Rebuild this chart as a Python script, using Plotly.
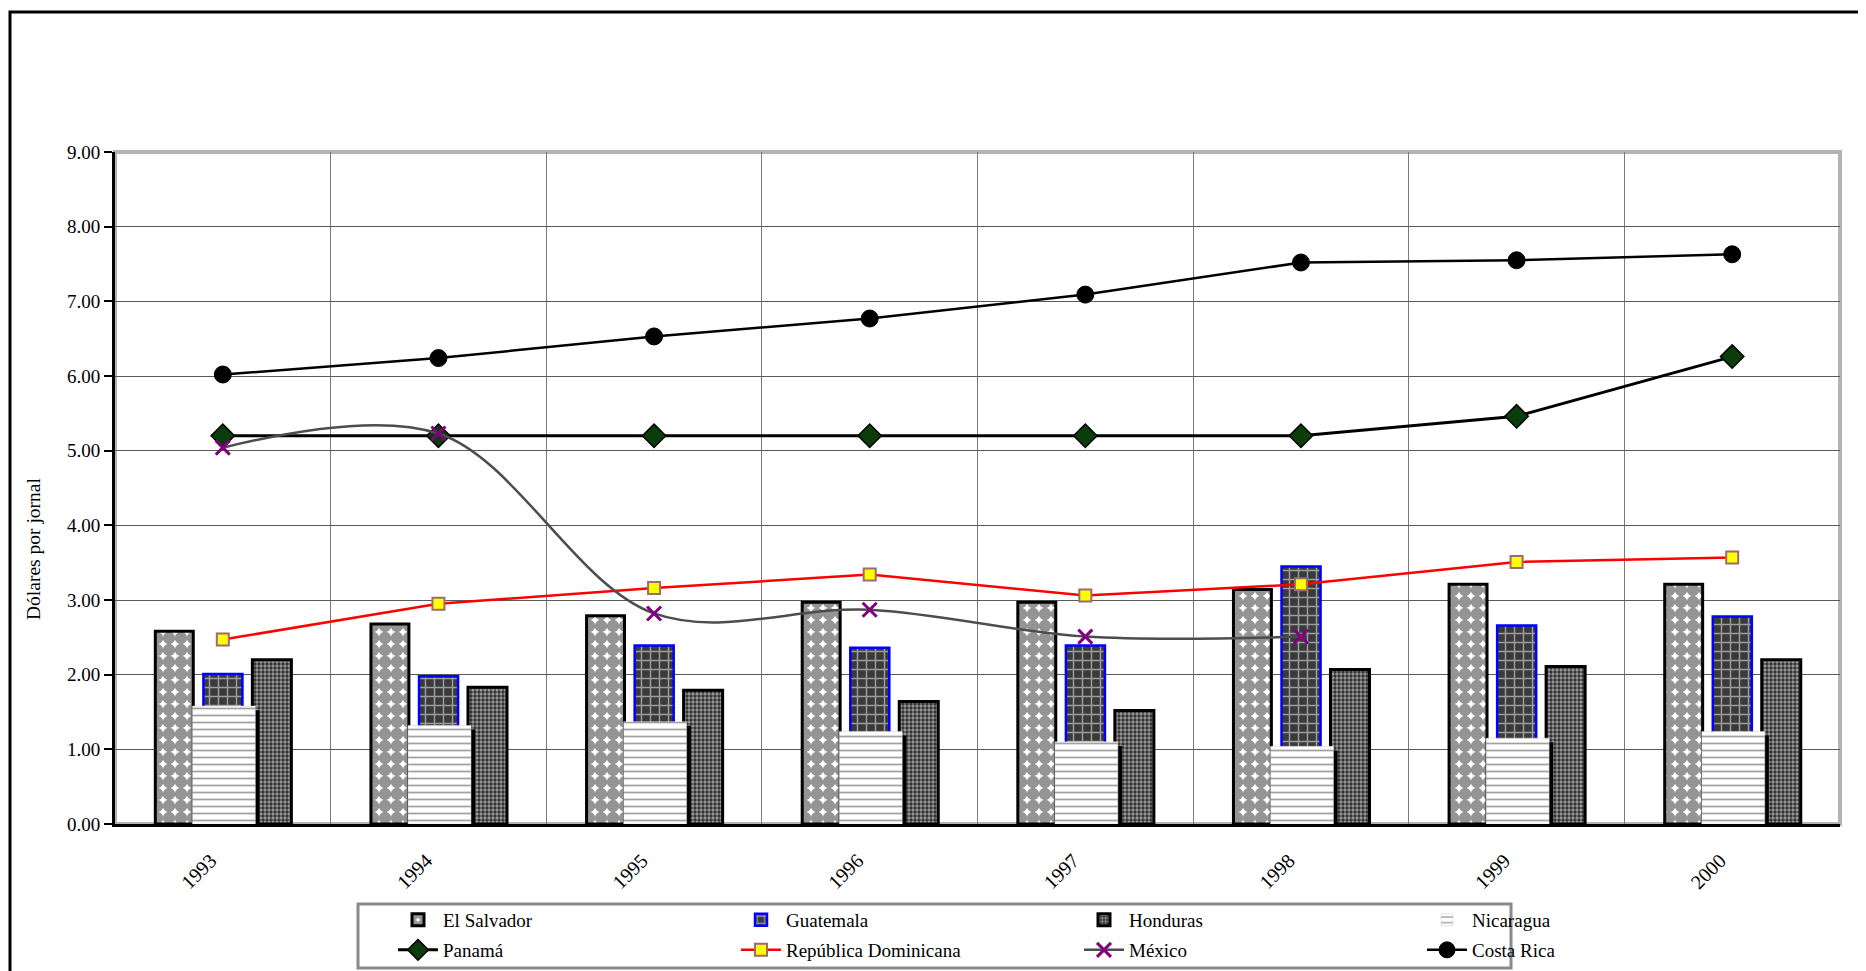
import plotly.graph_objects as go

# ---------------- data ----------------
years = [1993, 1994, 1995, 1996, 1997, 1998, 1999, 2000]
el_salvador = [2.58, 2.68, 2.79, 2.97, 2.97, 3.14, 3.21, 3.21]
guatemala = [2.01, 1.98, 2.39, 2.36, 2.39, 3.45, 2.66, 2.78]
honduras = [2.20, 1.83, 1.79, 1.64, 1.52, 2.07, 2.11, 2.20]
nicaragua = [1.58, 1.32, 1.37, 1.24, 1.10, 1.04, 1.15, 1.24]
panama = [5.20, 5.20, 5.20, 5.20, 5.20, 5.20, 5.46, 6.26]
rep_dominicana = [2.47, 2.95, 3.16, 3.34, 3.06, 3.21, 3.51, 3.57]
mexico = [5.04, 5.23, 2.82, 2.87, 2.51, 2.51, None, None]
costa_rica = [6.02, 6.24, 6.53, 6.77, 7.09, 7.52, 7.55, 7.63]
y_ticks = [0, 1, 2, 3, 4, 5, 6, 7, 8, 9]

FONT = "Liberation Serif"

# page body has an 8px margin; figure sized to fit the window
OFF = 8
W, H = 1866 - OFF, 971 - OFF
L, T = 115 - OFF, 152 - OFF
PR, PB = 1840 - OFF, 824 - OFF          # plot right / bottom in figure px
R, B = W - PR, H - PB
PW, PH = PR - L, PB - T


def px(page_x):
    return (page_x - OFF - L) / PW


def py(page_y):
    return (PB - (page_y - OFF)) / PH


fig = go.Figure()

# ---------------- bars ----------------
fig.add_trace(go.Bar(
    x=years, y=el_salvador, name="El Salvador", legend="legend",
    offset=-0.313, width=0.176,
    marker=dict(color="white",
                line=dict(color="black", width=3),
                pattern=dict(shape=".", fgcolor="#2a2a2a", bgcolor="white",
                             size=12, solidity=0.8)),
))
fig.add_trace(go.Bar(
    x=years, y=guatemala, name="Guatemala", legend="legend",
    offset=-0.090, width=0.181,
    marker=dict(color="#3a3a3a",
                line=dict(color="#0000ff", width=2.5),
                pattern=dict(shape="+", fgcolor="white", bgcolor="#3a3a3a",
                             size=9, solidity=0.3)),
))
fig.add_trace(go.Bar(
    x=years, y=honduras, name="Honduras", legend="legend",
    offset=0.137, width=0.181,
    marker=dict(color="#2a2a2a",
                line=dict(color="black", width=3),
                pattern=dict(shape=".", fgcolor="white", bgcolor="#2a2a2a",
                             size=4, solidity=0.55)),
))
# shadow of Nicaragua bars
shadow_drop = 0.055
fig.add_trace(go.Bar(
    x=years, y=[v - shadow_drop for v in nicaragua], showlegend=False,
    offset=-0.141 + 0.019, width=0.292,
    marker=dict(color="black", line=dict(width=0)), hoverinfo="skip",
))
fig.add_trace(go.Bar(
    x=years, y=nicaragua, name="Nicaragua", legend="legend",
    offset=-0.141, width=0.292,
    marker=dict(color="white",
                line=dict(color="#cccccc", width=0.5),
                pattern=dict(shape="-", fgcolor="#444444", bgcolor="white",
                             size=7, solidity=0.25)),
))

# ---------------- lines ----------------
fig.add_trace(go.Scatter(
    x=years, y=panama, name="Panamá", legend="legend2", mode="lines+markers",
    line=dict(color="black", width=3),
    marker=dict(symbol="diamond", size=18, color="#0b3d0b",
                line=dict(color="black", width=1.5)),
))
fig.add_trace(go.Scatter(
    x=years, y=rep_dominicana, name="República Dominicana", legend="legend2",
    mode="lines+markers",
    line=dict(color="#ff0000", width=2.5),
    marker=dict(symbol="square", size=12, color="#ffff00",
                line=dict(color="#9c6b6b", width=2)),
))
fig.add_trace(go.Scatter(
    x=years, y=mexico, name="México", legend="legend2", mode="lines+markers",
    line=dict(color="#4d4d4d", width=2.5, shape="spline", smoothing=1.0),
    marker=dict(symbol="x-thin-open", size=14, color="#800080",
                line=dict(color="#800080", width=3)),
))
fig.add_trace(go.Scatter(
    x=years, y=costa_rica, name="Costa Rica", legend="legend2",
    mode="lines+markers",
    line=dict(color="black", width=2.5),
    marker=dict(symbol="circle", size=17, color="black",
                line=dict(color="black", width=1)),
))

# ---------------- layout ----------------
shapes = [
    # plot-area frame (grey hatched look)
    dict(type="rect", xref="paper", yref="paper", x0=0, x1=1, y0=0, y1=1,
         line=dict(color="#b3b3b3", width=4), layer="below"),
    # outer chart frame
    dict(type="rect", xref="paper", yref="paper",
         x0=px(10), x1=px(2100), y0=py(1200), y1=py(12),
         line=dict(color="black", width=3)),
    # legend box
    dict(type="rect", xref="paper", yref="paper",
         x0=px(358), x1=px(1511), y0=py(968), y1=py(904),
         line=dict(color="#8a8a8a", width=3)),
]

fig.update_layout(
    width=W, height=H,
    margin=dict(l=L, r=R, t=T, b=B, pad=0, autoexpand=False),
    paper_bgcolor="white", plot_bgcolor="white",
    barmode="overlay",
    font=dict(family=FONT, size=19, color="black"),
    shapes=shapes,
    showlegend=True,
    legend=dict(orientation="h", x=px(393), xanchor="left",
                y=py(920), yanchor="middle",
                entrywidth=288, entrywidthmode="pixels",
                bgcolor="rgba(0,0,0,0)", borderwidth=0,
                font=dict(family=FONT, size=19), itemwidth=40,
                traceorder="normal"),
    legend2=dict(orientation="h", x=px(393), xanchor="left",
                 y=py(950), yanchor="middle",
                 entrywidth=288, entrywidthmode="pixels",
                 bgcolor="rgba(0,0,0,0)", borderwidth=0,
                 font=dict(family=FONT, size=19), itemwidth=40,
                 traceorder="normal"),
    annotations=[dict(text="Dólares por jornal", xref="paper", yref="paper",
                      x=px(33), y=py(549), xanchor="center", yanchor="middle",
                      textangle=-90, showarrow=False,
                      font=dict(family=FONT, size=19.5))],
)

fig.update_xaxes(
    range=[1992.5, 2000.5],
    tickmode="array", tickvals=years, ticktext=[str(y) for y in years],
    tickangle=-45, ticks="", showgrid=False,
    showline=True, linecolor="black", linewidth=3,
    ticklabelstandoff=14, ticklabelshift=-12,
    tickfont=dict(family=FONT, size=20),
    minor=dict(tick0=1992.5, dtick=1, showgrid=True, gridcolor="#7a7a7a",
               gridwidth=1, ticks=""),
    zeroline=False,
)
fig.update_yaxes(
    range=[0, 9], tickmode="array", tickvals=y_ticks,
    ticktext=[f"{v:.2f}" for v in y_ticks],
    ticks="outside", ticklen=8, tickwidth=2, tickcolor="black",
    showline=True, linecolor="black", linewidth=3,
    showgrid=True, gridcolor="#5a5a5a", gridwidth=1,
    tickfont=dict(family=FONT, size=19),
    zeroline=False,
)

fig.write_html("out.html")
